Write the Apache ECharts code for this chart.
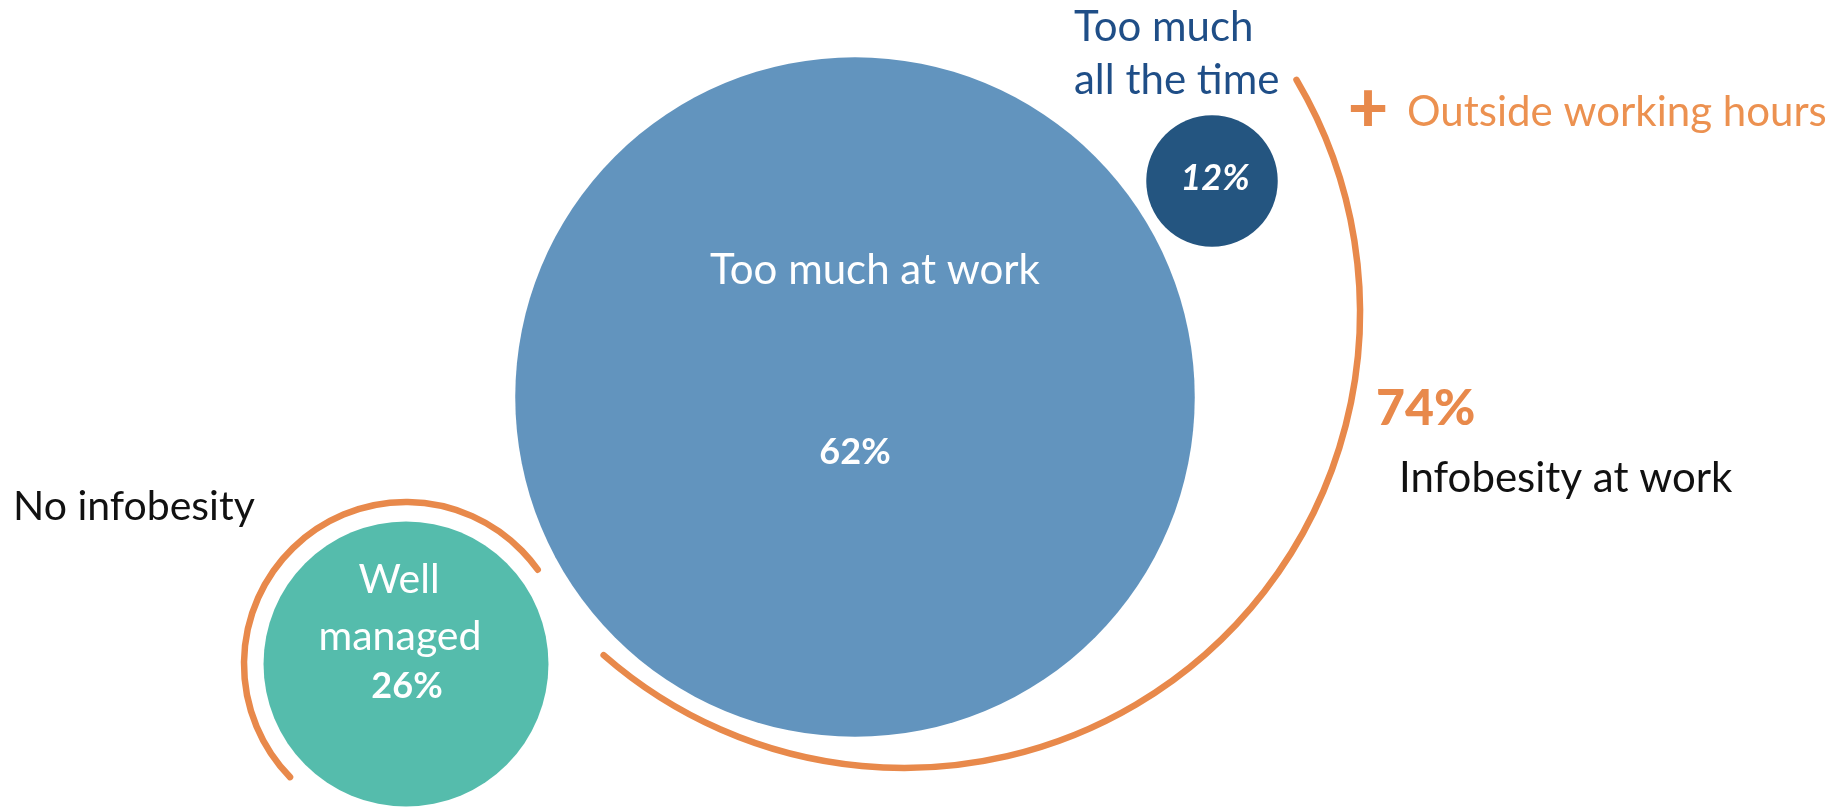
<!DOCTYPE html>
<html><head><meta charset="utf-8">
<script src="https://cdn.jsdelivr.net/npm/echarts@6/dist/echarts.min.js"></script>
<style>html,body{margin:0;padding:0;background:#fff}#c{width:1839px;height:807px}</style>
</head><body><div id="c"></div>
<script>
// ---- data ----
const categories = ['Too much at work', 'Too much all the time', 'Well managed'];
const values = [62, 12, 26];
const totalLabel = 'Infobesity at work';
const totalValue = 74;
const extraLabel = 'Outside working hours';
const noneLabel = 'No infobesity';

// ---- layout / style (kept apart from data) ----
const centers = [[855, 397], [1212, 181], [406, 664]];
const colors = ['#6294BE', '#245580', '#55BCAC'];
const pctOffsets = [[0, 55], [3, -3], [1, 22]];
const pxPerPercent = 10.96; // bubble diameter per percent point
const arcs = [
  // cx, cy, r, startDeg, endDeg (canvas angles, clockwise)
  [904, 312, 456, -30.6, 131.2],
  [406, 664, 162, 135.7, 324.4]
];
const ORANGE = '#E8894B';
const FONT = 'Lato, "Open Sans", sans-serif';

const chart = echarts.init(document.getElementById('c'), null, {renderer: 'canvas'});

const bubbleData = values.map((v, i) => ({
  value: [centers[i][0], centers[i][1], v],
  name: categories[i],
  itemStyle: {color: colors[i], opacity: 1},
  label: {
    show: true, position: 'inside', offset: pctOffsets[i],
    formatter: v + '%', color: '#fff', fontFamily: FONT, fontWeight: 'bold',
    fontSize: 36, fontStyle: i === 1 ? 'italic' : 'normal'
  }
}));

function txt(text, x, y, opts) {
  return {
    type: 'text', x: x, y: y, z: 100, silent: true,
    style: Object.assign({text: text, fontFamily: FONT, fontSize: 42, fill: '#111',
      align: 'left', verticalAlign: 'middle'}, opts || {})
  };
}

const graphics = [
  txt(categories[0], 875, 270, {fill: '#fff', align: 'center'}),
  txt('Well', 399, 580, {fill: '#fff', align: 'center', fontSize: 41}),
  txt('managed', 400, 637, {fill: '#fff', align: 'center', fontSize: 41}),
  txt('Too much', 1074, 27, {fill: '#1F4E87'}),
  txt('all the time', 1074, 80, {fill: '#1F4E87'}),
  txt('+', 1368, 109, {fill: ORANGE, align: 'center', fontSize: 70, fontWeight: 900}),
  txt(extraLabel, 1407, 112, {fill: '#EC9150'}),
  txt(totalValue + '%', 1376, 409, {fill: ORANGE, fontSize: 50, fontWeight: 900}),
  txt(totalLabel, 1399, 478, {fill: '#111'}),
  txt(noneLabel, 13, 507, {fill: '#111', fontSize: 41})
];

chart.setOption({
  animation: false,
  backgroundColor: '#fff',
  grid: {left: 0, right: 0, top: 0, bottom: 0},
  xAxis: {type: 'value', min: 0, max: 1839, show: false},
  yAxis: {type: 'value', min: 0, max: 807, inverse: true, show: false},
  series: [
    {
      type: 'custom', coordinateSystem: 'cartesian2d', silent: true,
      data: arcs,
      renderItem: function (params, api) {
        const c = api.coord([api.value(0), api.value(1)]);
        const r = api.size([api.value(2), 0])[0];
        return {
          type: 'arc',
          shape: {cx: c[0], cy: c[1], r: r,
            startAngle: api.value(3) * Math.PI / 180,
            endAngle: api.value(4) * Math.PI / 180, clockwise: true},
          style: {stroke: ORANGE, lineWidth: 6.5, fill: 'none', lineCap: 'round'}
        };
      }
    },
    {
      type: 'scatter', silent: true,
      symbol: 'circle',
      symbolSize: function (val) { return val[2] * pxPerPercent; },
      data: bubbleData
    }
  ],
  graphic: graphics
});
</script>
</body></html>
